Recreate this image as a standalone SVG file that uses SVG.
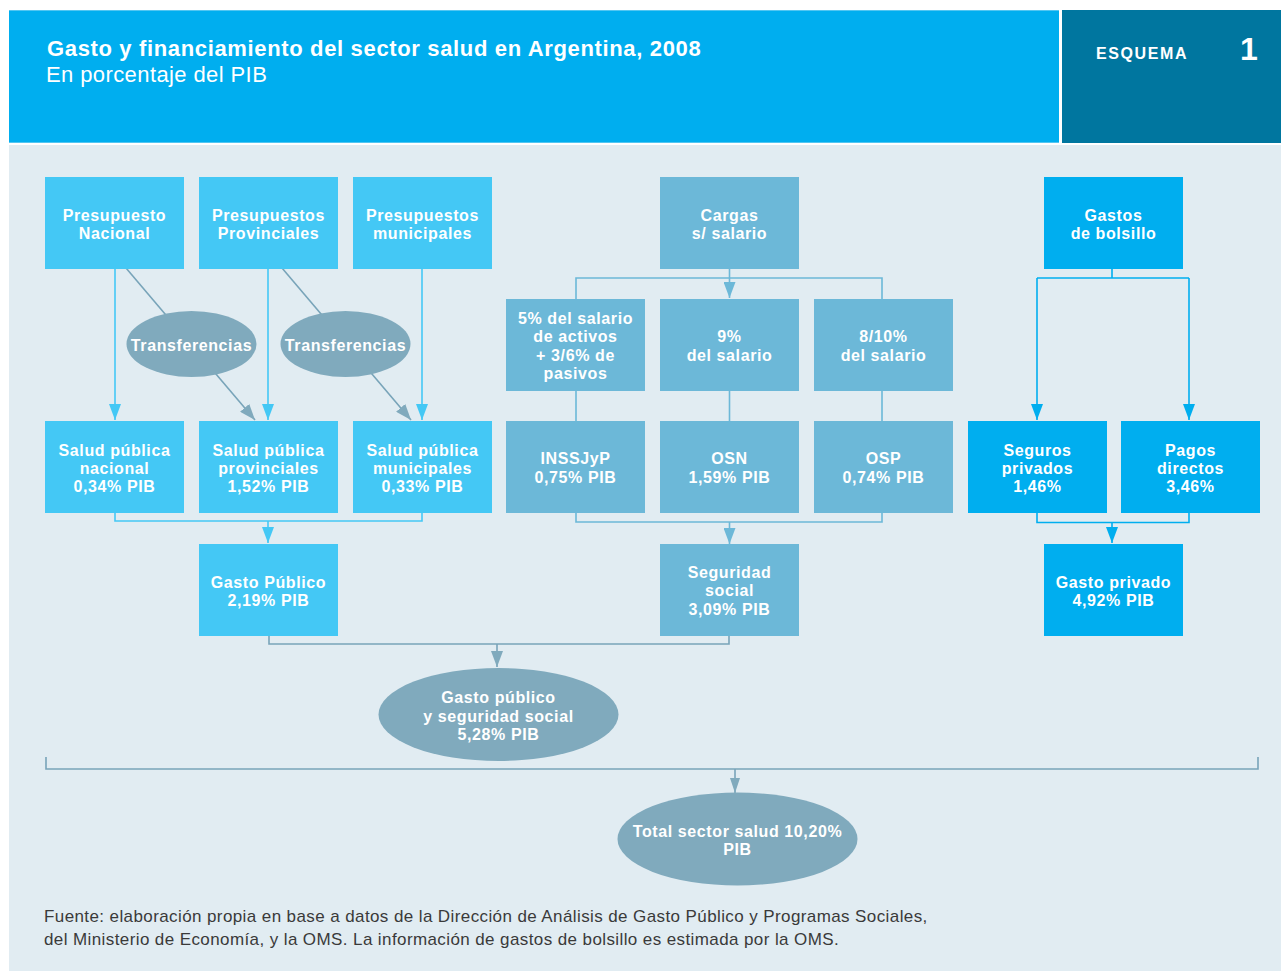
<svg xmlns="http://www.w3.org/2000/svg" width="1281" height="971" viewBox="0 0 1281 971">
<style>
.t{font-family:"Liberation Sans",Arial,sans-serif;font-weight:bold;font-size:16px;fill:#fff;text-anchor:middle;letter-spacing:0.6px}
.bl{fill:#44c8f5}
.bm{fill:#6cb8d8}
.br{fill:#00aeef}
.el{fill:#80aabd}
.cl{fill:none;stroke:#44c8f5;stroke-width:1.6}
.cm{fill:none;stroke:#6cb8d8;stroke-width:1.6}
.cr{fill:none;stroke:#00aeef;stroke-width:1.6}
.cg{fill:none;stroke:#78a4b9;stroke-width:1.6}
</style>
<defs>
<marker id="aL" markerUnits="userSpaceOnUse" markerWidth="16" markerHeight="12" refX="16" refY="6" orient="auto"><path d="M0,0 L16,6 L0,12 z" fill="#44c8f5"/></marker>
<marker id="aM" markerUnits="userSpaceOnUse" markerWidth="16" markerHeight="12" refX="16" refY="6" orient="auto"><path d="M0,0 L16,6 L0,12 z" fill="#6cb8d8"/></marker>
<marker id="aR" markerUnits="userSpaceOnUse" markerWidth="16" markerHeight="12" refX="16" refY="6" orient="auto"><path d="M0,0 L16,6 L0,12 z" fill="#00aeef"/></marker>
<marker id="aG" markerUnits="userSpaceOnUse" markerWidth="16" markerHeight="12" refX="16" refY="6" orient="auto"><path d="M0,0 L16,6 L0,12 z" fill="#80aabd"/></marker>
<marker id="aG2" markerUnits="userSpaceOnUse" markerWidth="15" markerHeight="10" refX="15" refY="5" orient="auto"><path d="M0,0 L15,5 L0,10 z" fill="#80aabd"/></marker>
</defs>
<rect width="1281" height="971" fill="#ffffff"/>
<g id="header">
<rect x="9" y="10" width="1050" height="133" fill="#00aeef"/>
<line x1="9" y1="10.5" x2="1059" y2="10.5" stroke="#52c6f2" stroke-width="1"/>
<line x1="9" y1="142.5" x2="1059" y2="142.5" stroke="#52c6f2" stroke-width="1"/>
<rect x="1062" y="10" width="219" height="133" fill="#00769f"/>
<text x="47" y="56" font-family="Liberation Sans,Arial,sans-serif" font-weight="bold" font-size="22" fill="#fff" letter-spacing="0.65">Gasto y financiamiento del sector salud en Argentina, 2008</text>
<text x="46" y="82" font-family="Liberation Sans,Arial,sans-serif" font-size="22" fill="#fff" letter-spacing="0.4">En porcentaje del PIB</text>
<text x="1096" y="59" font-family="Liberation Sans,Arial,sans-serif" font-weight="bold" font-size="16" fill="#fff" letter-spacing="1.6">ESQUEMA</text>
<text x="1249" y="60" font-family="Liberation Sans,Arial,sans-serif" font-weight="bold" font-size="32" fill="#fff" text-anchor="middle">1</text>
</g>
<rect x="9" y="145" width="1272" height="826" fill="#e1ecf2"/>
<g id="connectors">
<path class="cl" d="M115,268 V420" marker-end="url(#aL)"/>
<path class="cl" d="M268,268 V420" marker-end="url(#aL)"/>
<path class="cl" d="M422,268 V420" marker-end="url(#aL)"/>
<path class="cg" d="M126,268 L255,420" marker-end="url(#aG)"/>
<path class="cg" d="M282,268 L411,420" marker-end="url(#aG)"/>
<path class="cl" d="M115,513 V521 H422 V513"/>
<path class="cl" d="M268,521 V543" marker-end="url(#aL)"/>
<path class="cm" d="M729.5,268 V298" marker-end="url(#aM)"/>
<path class="cm" d="M576,299 V278 H882 V299"/>
<path class="cm" d="M576,391 V421 M729.5,391 V421 M882,391 V421"/>
<path class="cm" d="M576,513 V522 H882 V513"/>
<path class="cm" d="M729.5,522 V544" marker-end="url(#aM)"/>
<path class="cr" d="M1112,268 V278 M1037,278 H1189"/>
<path class="cr" d="M1037,278 V420" marker-end="url(#aR)"/>
<path class="cr" d="M1189,278 V420" marker-end="url(#aR)"/>
<path class="cr" d="M1037,513 V522.5 H1189 V513"/>
<path class="cr" d="M1112,522.5 V543" marker-end="url(#aR)"/>
<path class="cg" d="M269,636 V644 H729 V636"/>
<path class="cg" d="M497,644 V667" marker-end="url(#aG)"/>
<path class="cg" d="M46,757 V769 H1258 V757"/>
<path class="cg" d="M735,769 V793" marker-end="url(#aG2)"/>
</g>
<g id="n-pres-nac"><rect class="bl" x="45" y="177" width="139" height="92"/><text class="t" x="114.5" y="221">Presupuesto</text><text class="t" x="114.5" y="239">Nacional</text></g>
<g id="n-pres-prov"><rect class="bl" x="199" y="177" width="139" height="92"/><text class="t" x="268.5" y="221">Presupuestos</text><text class="t" x="268.5" y="239">Provinciales</text></g>
<g id="n-pres-mun"><rect class="bl" x="353" y="177" width="139" height="92"/><text class="t" x="422.5" y="221">Presupuestos</text><text class="t" x="422.5" y="239">municipales</text></g>
<g id="n-transf1"><ellipse class="el" cx="191.5" cy="344" rx="65" ry="33"/><text class="t" x="191.5" y="351">Transferencias</text></g>
<g id="n-transf2"><ellipse class="el" cx="345.5" cy="344" rx="65" ry="33"/><text class="t" x="345.5" y="351">Transferencias</text></g>
<g id="n-salud-nac"><rect class="bl" x="45" y="421" width="139" height="92"/><text class="t" x="114.5" y="456">Salud pública</text><text class="t" x="114.5" y="474">nacional</text><text class="t" x="114.5" y="492">0,34% PIB</text></g>
<g id="n-salud-prov"><rect class="bl" x="199" y="421" width="139" height="92"/><text class="t" x="268.5" y="456">Salud pública</text><text class="t" x="268.5" y="474">provinciales</text><text class="t" x="268.5" y="492">1,52% PIB</text></g>
<g id="n-salud-mun"><rect class="bl" x="353" y="421" width="139" height="92"/><text class="t" x="422.5" y="456">Salud pública</text><text class="t" x="422.5" y="474">municipales</text><text class="t" x="422.5" y="492">0,33% PIB</text></g>
<g id="n-gasto-pub"><rect class="bl" x="199" y="544" width="139" height="92"/><text class="t" x="268.5" y="588">Gasto Público</text><text class="t" x="268.5" y="606">2,19% PIB</text></g>
<g id="n-cargas"><rect class="bm" x="660" y="177" width="139" height="92"/><text class="t" x="729.5" y="221">Cargas</text><text class="t" x="729.5" y="239">s/ salario</text></g>
<g id="n-5pct"><rect class="bm" x="506" y="299" width="139" height="92"/><text class="t" x="575.5" y="324">5% del salario</text><text class="t" x="575.5" y="342">de activos</text><text class="t" x="575.5" y="361">+ 3/6% de</text><text class="t" x="575.5" y="379">pasivos</text></g>
<g id="n-9pct"><rect class="bm" x="660" y="299" width="139" height="92"/><text class="t" x="729.5" y="342">9%</text><text class="t" x="729.5" y="361">del salario</text></g>
<g id="n-8pct"><rect class="bm" x="814" y="299" width="139" height="92"/><text class="t" x="883.5" y="342">8/10%</text><text class="t" x="883.5" y="361">del salario</text></g>
<g id="n-inssjyp"><rect class="bm" x="506" y="421" width="139" height="92"/><text class="t" x="575.5" y="464">INSSJyP</text><text class="t" x="575.5" y="483">0,75% PIB</text></g>
<g id="n-osn"><rect class="bm" x="660" y="421" width="139" height="92"/><text class="t" x="729.5" y="464">OSN</text><text class="t" x="729.5" y="483">1,59% PIB</text></g>
<g id="n-osp"><rect class="bm" x="814" y="421" width="139" height="92"/><text class="t" x="883.5" y="464">OSP</text><text class="t" x="883.5" y="483">0,74% PIB</text></g>
<g id="n-seg-social"><rect class="bm" x="660" y="544" width="139" height="92"/><text class="t" x="729.5" y="578">Seguridad</text><text class="t" x="729.5" y="596">social</text><text class="t" x="729.5" y="615">3,09% PIB</text></g>
<g id="n-gastos-bolsillo"><rect class="br" x="1044" y="177" width="139" height="92"/><text class="t" x="1113.5" y="221">Gastos</text><text class="t" x="1113.5" y="239">de bolsillo</text></g>
<g id="n-seguros"><rect class="br" x="968" y="421" width="139" height="92"/><text class="t" x="1037.5" y="456">Seguros</text><text class="t" x="1037.5" y="474">privados</text><text class="t" x="1037.5" y="492">1,46%</text></g>
<g id="n-pagos"><rect class="br" x="1121" y="421" width="139" height="92"/><text class="t" x="1190.5" y="456">Pagos</text><text class="t" x="1190.5" y="474">directos</text><text class="t" x="1190.5" y="492">3,46%</text></g>
<g id="n-gasto-priv"><rect class="br" x="1044" y="544" width="139" height="92"/><text class="t" x="1113.5" y="588">Gasto privado</text><text class="t" x="1113.5" y="606">4,92% PIB</text></g>
<g id="n-gasto-pub-ss"><ellipse class="el" cx="498.5" cy="714.5" rx="120" ry="46.5"/><text class="t" x="498.5" y="703">Gasto público</text><text class="t" x="498.5" y="722">y seguridad social</text><text class="t" x="498.5" y="740">5,28% PIB</text></g>
<g id="n-total"><ellipse class="el" cx="737.5" cy="839" rx="120" ry="46.5"/><text class="t" x="737.5" y="837">Total sector salud 10,20%</text><text class="t" x="737.5" y="855">PIB</text></g>
<g id="footer" font-family="Liberation Sans,Arial,sans-serif" font-size="17" fill="#3a3a3a" letter-spacing="0.4">
<text x="44" y="922">Fuente: elaboración propia en base a datos de la Dirección de Análisis de Gasto Público y Programas Sociales,</text>
<text x="44" y="945">del Ministerio de Economía, y la OMS. La información de gastos de bolsillo es estimada por la OMS.</text>
</g>
</svg>
